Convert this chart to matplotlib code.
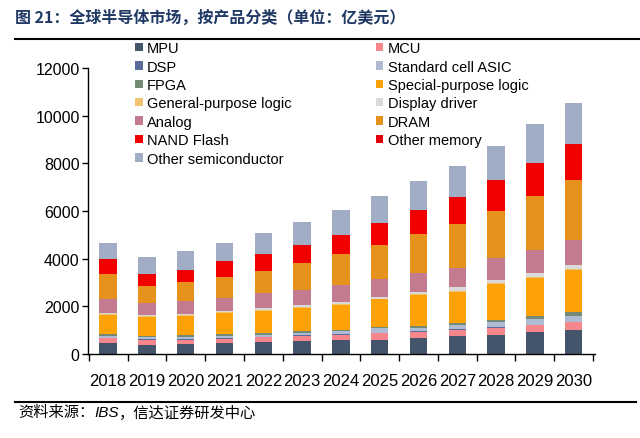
import numpy as np
import matplotlib.pyplot as plt
from matplotlib.patches import Patch

plt.rcParams['font.family'] = ['Liberation Sans', 'Noto Sans CJK SC', 'DejaVu Sans']

years = ['2018', '2019', '2020', '2021', '2022', '2023', '2024',
         '2025', '2026', '2027', '2028', '2029', '2030']

# 亿美元, bottom to top of each stack
mpu = [450, 390, 400, 455, 485, 525, 570, 595, 665, 765, 805, 920, 1020]
mcu = [210, 210, 196, 182, 224, 238, 224, 280, 253, 253, 280, 280, 309]
dsp = [25, 25, 25, 25, 25, 25, 25, 25, 30, 30, 30, 30, 30]
asic = [84, 84, 112, 98, 84, 112, 126, 190, 154, 182, 238, 238, 253]
fpga = [56, 56, 56, 70, 56, 70, 70, 30, 84, 60, 84, 112, 140]
special = [820, 795, 805, 890, 930, 960, 1045, 1170, 1295, 1320, 1505, 1615, 1770]
general = [25, 25, 25, 25, 25, 25, 25, 25, 25, 25, 25, 25, 25]
display = [56, 56, 56, 56, 98, 98, 84, 70, 84, 168, 140, 168, 168]
analog = [602, 505, 547, 547, 618, 632, 744, 772, 814, 814, 912, 996, 1053]
dram = [1027, 728, 786, 870, 954, 1137, 1263, 1403, 1614, 1825, 1979, 2232, 2526]
nand = [590, 450, 491, 632, 674, 730, 800, 912, 982, 1123, 1263, 1375, 1474]
other_mem = [35, 35, 35, 35, 35, 35, 35, 35, 35, 35, 35, 35, 35]
other_semi = [680, 710, 805, 775, 860, 945, 1045, 1130, 1225, 1300, 1435, 1605, 1730]

series = [
    ('MPU', mpu, '#44546A'),
    ('MCU', mcu, '#F4868C'),
    ('DSP', dsp, '#5A6A9A'),
    ('Standard cell ASIC', asic, '#AEBBD2'),
    ('FPGA', fpga, '#748A74'),
    ('Special-purpose logic', special, '#FFA208'),
    ('General-purpose logic', general, '#F0C36E'),
    ('Display driver', display, '#DADADA'),
    ('Analog', analog, '#C47A8F'),
    ('DRAM', dram, '#E8921E'),
    ('NAND Flash', nand, '#F20000'),
    ('Other memory', other_mem, '#E4000A'),
    ('Other semiconductor', other_semi, '#A1ADC4'),
]

fig = plt.figure(figsize=(6.4, 4.39), dpi=100)
ax = fig.add_axes([88/640, 1-355/439, (595-88)/640, (355-69)/439])

x = np.arange(len(years))
bottom = np.zeros(len(years))
handles = {}
for name, vals, col in series:
    ax.bar(x, vals, 0.45, bottom=bottom, color=col, linewidth=0)
    bottom += np.array(vals)
    handles[name] = Patch(facecolor=col, edgecolor='none')

ax.set_xlim(-0.52, 12.55)
ax.set_ylim(0, 12000)
ax.set_yticks(range(0, 12001, 2000))
ax.set_xticks(x)
ax.set_xticklabels(years)
ax.set_xticks(np.arange(-0.5, 12.6, 1), minor=True)
ax.tick_params(axis='x', which='major', length=0, pad=14, labelsize=12)
ax.tick_params(axis='x', which='minor', length=5, width=1, direction='out')
ax.tick_params(axis='y', length=4, width=1, direction='out', labelsize=11.5, pad=2)
for s in ['top', 'right']:
    ax.spines[s].set_visible(False)
for s in ['left', 'bottom']:
    ax.spines[s].set_linewidth(1)

col1 = ['MPU', 'DSP', 'FPGA', 'General-purpose logic', 'Analog', 'NAND Flash', 'Other semiconductor']
col2 = ['MCU', 'Standard cell ASIC', 'Special-purpose logic', 'Display driver', 'DRAM', 'Other memory']
order = col1 + col2
fig.legend([handles[n] for n in order], order, ncol=2, loc='upper left',
           bbox_to_anchor=(128/640, 1-35/439), frameon=False, fontsize=10.5,
           handlelength=0.5, handleheight=0.5, handletextpad=0.3,
           labelspacing=0.3, columnspacing=5.8, borderpad=0)

# title and rules
fig.text(15/640, 1-18/439, '图 21：全球半导体市场，按产品分类（单位：亿美元）',
         fontsize=11.5, fontweight='bold', color='#1F3864', va='center',
         family=['Noto Sans CJK SC', 'DejaVu Sans'])
fig.add_artist(plt.Line2D([15/640, 1], [1-40/439, 1-40/439], color='black', lw=1.5))
fig.add_artist(plt.Line2D([15/640, 636/640], [1-403/439, 1-403/439], color='black', lw=1.5))

# footer with italic IBS
r = fig.canvas.get_renderer()
fx = 18
parts = [('资料来源：', 'normal'), ('IBS', 'italic'), ('，信达证券研发中心', 'normal')]
for txt, st in parts:
    t = fig.text(fx/640, 1-413/439, txt, fontsize=11, style=st, va='center',
                 family=['Noto Sans CJK SC', 'DejaVu Sans'] if st == 'normal' else ['Liberation Sans'])
    fx += t.get_window_extent(r).width

fig.savefig('out.png', dpi=100)
